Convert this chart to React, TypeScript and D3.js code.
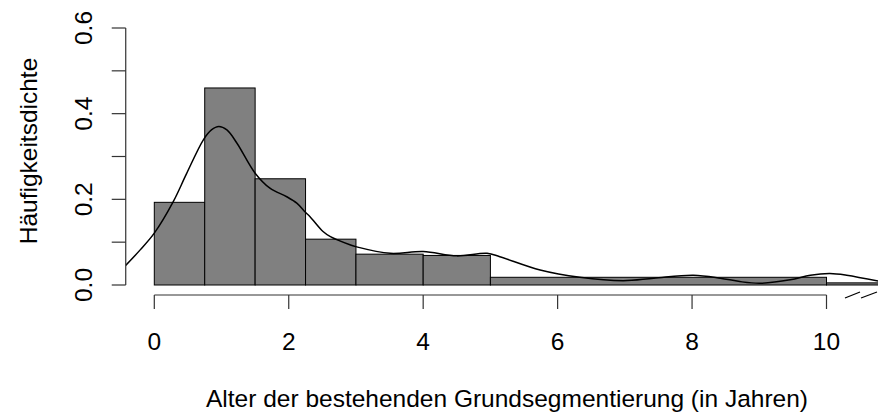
import React from "react";
import * as d3 from "d3";

const breaks = [0, 0.75, 1.5, 2.25, 3, 4, 5, 10, 12];
const densities = [0.193, 0.46, 0.248, 0.107, 0.072, 0.069, 0.018, 0.005];

const kdeX = [-0.43, -0.21, 0, 0.28, 0.48, 0.73, 0.85, 0.96, 1.08, 1.23, 1.5, 1.72, 1.97, 2.12, 2.24, 2.32, 2.51, 2.62, 2.91, 3.01, 3.51, 4.0, 4.5, 4.95, 5.14, 5.74, 6.33, 6.98, 7.43, 8.02, 8.42, 8.71, 9.01, 9.46, 9.76, 10.05, 10.3, 10.8];
const kdeY = [0.045, 0.082, 0.121, 0.194, 0.26, 0.339, 0.362, 0.37, 0.362, 0.331, 0.261, 0.226, 0.206, 0.191, 0.171, 0.159, 0.125, 0.113, 0.094, 0.089, 0.074, 0.078, 0.068, 0.074, 0.066, 0.035, 0.018, 0.010, 0.016, 0.023, 0.016, 0.008, 0.004, 0.012, 0.023, 0.027, 0.023, 0.008];

const xTicks = [0, 2, 4, 6, 8, 10];
const yTicks = [0, 0.1, 0.2, 0.3, 0.4, 0.5, 0.6];
const yLabelTicks = [0, 0.2, 0.4, 0.6];
const yTickLabels = ["0.0", "0.2", "0.4", "0.6"];

const xTitle = "Alter der bestehenden Grundsegmentierung (in Jahren)";
const yTitle = "Häufigkeitsdichte";

const W = 878;
const H = 414;
const FONT = "'Liberation Sans', Arial, Helvetica, sans-serif";
const FS = 24.5;

export default function App() {
  const x = d3.scaleLinear().domain([0, 10]).range([154.3, 826.5]);
  const y = d3.scaleLinear().domain([0, 0.6]).range([285, 28]);
  const plotLeft = x(-0.425);
  const axisY = 295;
  const tick = 14;

  const line = d3
    .line<number>()
    .x((_, i) => x(kdeX[i]))
    .y((d) => y(d))
    .curve(d3.curveCatmullRom.alpha(0.5));

  const bars = densities.map((d, i) => ({ x0: breaks[i], x1: breaks[i + 1], d }));

  return (
    <svg
      width={W}
      height={H}
      style={{ position: "absolute", left: 0, top: 0, background: "#fff" }}
      fontFamily={FONT}
    >
      <defs>
        <clipPath id="plotClip">
          <rect x={plotLeft} y={0} width={W - plotLeft} height={H} />
        </clipPath>
      </defs>
      <rect x={0} y={0} width={W} height={H} fill="#fff" />
      <g clipPath="url(#plotClip)">
        {bars.map((b, i) => (
          <rect
            key={i}
            x={x(b.x0)}
            y={y(b.d)}
            width={x(b.x1) - x(b.x0)}
            height={y(0) - y(b.d)}
            fill="#808080"
            stroke="#000"
            strokeWidth={1}
          />
        ))}
        <path d={line(kdeY) || ""} fill="none" stroke="#000" strokeWidth={1.5} />
      </g>

      {/* y axis */}
      <g stroke="#333" strokeWidth={1.2}>
        <line x1={plotLeft} x2={plotLeft} y1={y(0.6)} y2={y(0)} />
        {yTicks.map((t) => (
          <line key={t} x1={plotLeft - tick} x2={plotLeft} y1={y(t)} y2={y(t)} />
        ))}
      </g>
      {yLabelTicks.map((t, i) => (
        <text
          key={t}
          transform={`translate(${92},${y(t)}) rotate(-90)`}
          textAnchor="middle"
          fontSize={FS}
          fill="#000"
        >
          {yTickLabels[i]}
        </text>
      ))}

      {/* x axis */}
      <g stroke="#333" strokeWidth={1.2}>
        <line x1={x(0)} x2={x(10)} y1={axisY} y2={axisY} />
        {xTicks.map((t) => (
          <line key={t} x1={x(t)} x2={x(t)} y1={axisY} y2={axisY + tick} />
        ))}
      </g>
      {xTicks.map((t) => (
        <text key={t} x={x(t)} y={350} textAnchor="middle" fontSize={FS} fill="#000">
          {t}
        </text>
      ))}

      {/* axis break marks */}
      <g stroke="#000" strokeWidth={1.2}>
        <line x1={845} y1={298} x2={860} y2={292} />
        <line x1={861} y1={298} x2={877} y2={292} />
      </g>

      <text x={507} y={407} textAnchor="middle" fontSize={FS} fill="#000">
        {xTitle}
      </text>
      <text
        transform={`translate(${37},${151}) rotate(-90)`}
        textAnchor="middle"
        fontSize={FS}
        fill="#000"
      >
        {yTitle}
      </text>
    </svg>
  );
}
